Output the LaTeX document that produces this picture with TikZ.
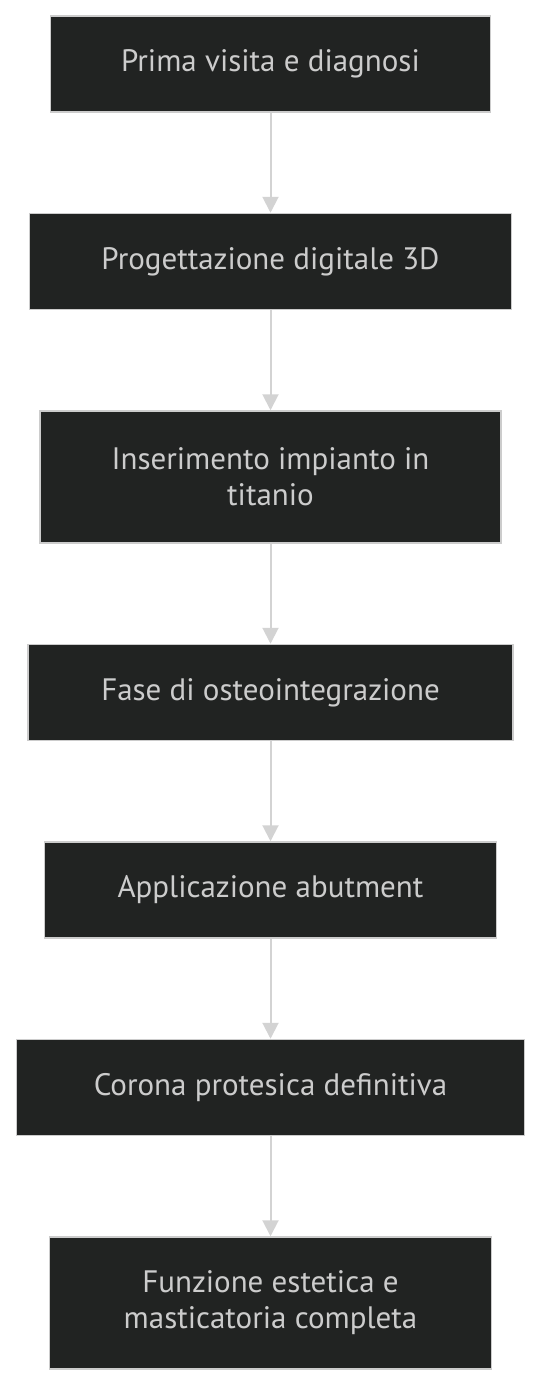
\documentclass[tikz,border=0pt]{standalone}
\usepackage{fontspec}
\setmainfont{PT Sans}
\usepackage{xcolor}
\usepackage{tikz}
\usetikzlibrary{positioning, arrows.meta}
\definecolor{boxfill}{HTML}{212322}
\definecolor{boxline}{HTML}{CCCCCC}
\definecolor{boxtext}{HTML}{CCCCCC}
\definecolor{linkgrey}{HTML}{D3D3D3}
\tikzset{
  block/.style={draw=boxline, line width=1.5pt, fill=boxfill, text=boxtext, align=center, font=\fontsize{31}{36}\selectfont, minimum height=96pt, inner sep=0pt},
  flow/.style={-{Triangle[length=16pt, width=16pt]}, line width=2pt, draw=linkgrey},
}

\begin{document}
\begin{tikzpicture}[x=1pt, y=1pt, node distance=100pt]
  \useasboundingbox (0,0) rectangle (541,-1384);
  % Treatment steps, top to bottom
  \node[block, minimum width=440pt] (s1) at (270.5,-64) {Prima visita e diagnosi};
  \node[block, below=of s1, minimum width=482pt] (s2) {Progettazione digitale 3D};
  \node[block, below=of s2, minimum width=461pt, minimum height=132pt] (s3) {Inserimento impianto in\\titanio};
  \node[block, below=of s3, minimum width=485pt] (s4) {Fase di osteointegrazione};
  \node[block, below=of s4, minimum width=452pt] (s5) {Applicazione abutment};
  \node[block, below=of s5, minimum width=508pt] (s6) {Corona protesica definitiva};
  \node[block, below=of s6, minimum width=442pt, minimum height=132pt] (s7) {Funzione estetica e\\masticatoria completa};
  \draw[flow] (s1) -- (s2);
  \draw[flow] (s2) -- (s3);
  \draw[flow] (s3) -- (s4);
  \draw[flow] (s4) -- (s5);
  \draw[flow] (s5) -- (s6);
  \draw[flow] (s6) -- (s7);
\end{tikzpicture}
\end{document}
